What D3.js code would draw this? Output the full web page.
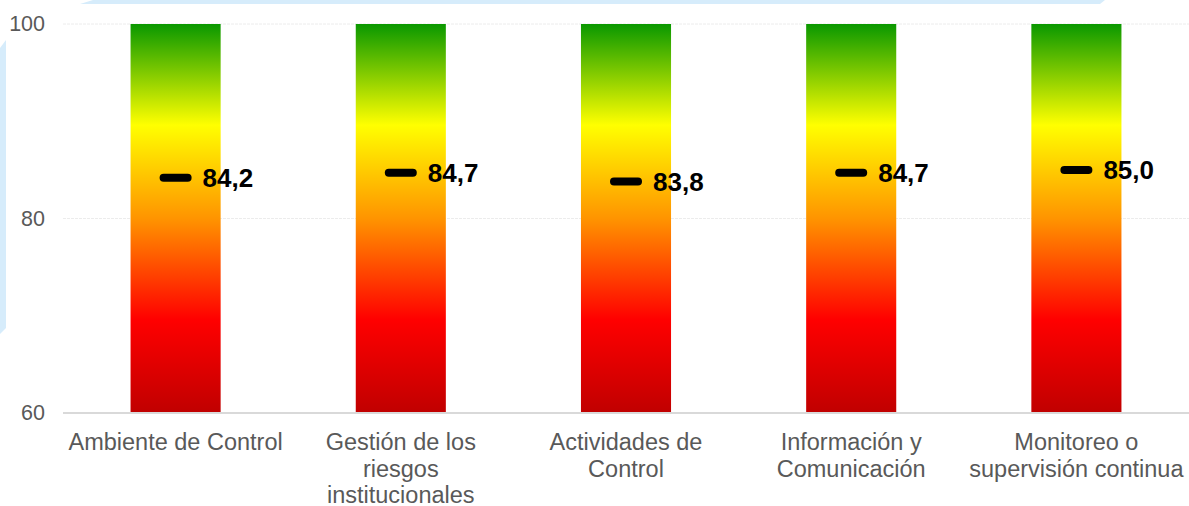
<!DOCTYPE html>
<html>
<head>
<meta charset="utf-8">
<script src="https://cdn.jsdelivr.net/npm/d3@7"></script>
<style>
  html, body { margin: 0; padding: 0; background: #ffffff; }
  svg { display: block; }
</style>
</head>
<body>
<svg id="chart" width="1189" height="506"></svg>
<script>
// Component names, each split into the lines shown under the axis
const categories = [
  "Ambiente de Control",
  "Gestión de los riesgos institucionales",
  "Actividades de Control",
  "Información y Comunicación",
  "Monitoreo o supervisión continua"
];
const categoryLines = [
  ["Ambiente de Control"],
  ["Gestión de los", "riesgos", "institucionales"],
  ["Actividades de", "Control"],
  ["Información y", "Comunicación"],
  ["Monitoreo o", "supervisión continua"]
];
const scores = [84.2, 84.7, 83.8, 84.7, 85.0];
const scaleMin = 60;
const scaleMax = 100;
const yTicks = [60, 80, 100];

const W = 1189, H = 506;
const margin = { left: 63, right: 0, top: 24, bottom: 93 };
const svg = d3.select("#chart");

// Light blue frame pieces behind the chart
svg.append("polygon")
  .attr("points", "80,4 93,0 1105,0 1100,4")
  .attr("fill", "#d6ecfb");
svg.append("polygon")
  .attr("points", "0,48 6,40 6,328 0,334")
  .attr("fill", "#d6ecfb");

const x = d3.scaleBand()
  .domain(categories)
  .range([margin.left, W - margin.right])
  .paddingInner(0.6)
  .paddingOuter(0.3);

const y = d3.scaleLinear()
  .domain([scaleMin, scaleMax])
  .range([H - margin.bottom, margin.top]);

// Vertical traffic-light gradient shared by every bar
const defs = svg.append("defs");
const grad = defs.append("linearGradient")
  .attr("id", "scoreGradient")
  .attr("gradientUnits", "userSpaceOnUse")
  .attr("x1", 0).attr("x2", 0)
  .attr("y1", y(scaleMin)).attr("y2", y(scaleMax));
[
  [0, "#c00000"],
  [0.24, "#ff0000"],
  [0.5, "#ff9400"],
  [0.74, "#ffff00"],
  [1, "#0a9800"]
].forEach(([o, c]) => grad.append("stop").attr("offset", o).attr("stop-color", c));

// Gridlines
svg.append("g")
  .selectAll("line")
  .data(yTicks.filter(t => t !== scaleMin))
  .join("line")
  .attr("x1", margin.left).attr("x2", W)
  .attr("y1", d => y(d)).attr("y2", d => y(d))
  .attr("stroke", "#ececec")
  .attr("stroke-width", 1)
  .attr("stroke-dasharray", "3,1");

// Bars spanning the full scale
svg.append("g")
  .selectAll("rect")
  .data(categories)
  .join("rect")
  .attr("x", d => x(d))
  .attr("width", x.bandwidth())
  .attr("y", y(scaleMax))
  .attr("height", y(scaleMin) - y(scaleMax))
  .attr("fill", "url(#scoreGradient)");

// Baseline
svg.append("line")
  .attr("x1", margin.left).attr("x2", W)
  .attr("y1", y(scaleMin)).attr("y2", y(scaleMin))
  .attr("stroke", "#d9d9d9")
  .attr("stroke-width", 2);

// Y axis labels
const yAxis = d3.axisLeft(y).tickValues(yTicks).tickSize(0).tickPadding(18);
const gy = svg.append("g")
  .attr("transform", `translate(${margin.left},0)`)
  .call(yAxis);
gy.select(".domain").remove();
gy.selectAll("text")
  .attr("font-family", "Liberation Sans, Arial, sans-serif")
  .attr("font-size", 21.5)
  .attr("fill", "#595959");

// Category labels
const labelG = svg.append("g");
categories.forEach((c, i) => {
  const t = labelG.append("text")
    .attr("x", x(c) + x.bandwidth() / 2)
    .attr("y", 450)
    .attr("text-anchor", "middle")
    .attr("font-family", "Liberation Sans, Arial, sans-serif")
    .attr("font-size", 23.5)
    .attr("fill", "#595959");
  categoryLines[i].forEach((line, j) => {
    t.append("tspan")
      .attr("x", x(c) + x.bandwidth() / 2)
      .attr("dy", j === 0 ? 0 : 26.5)
      .text(line);
  });
});

// Score markers and value labels
const fmt = v => d3.format(".1f")(v).replace(".", ",");
const marks = svg.append("g");
marks.selectAll("line")
  .data(scores)
  .join("line")
  .attr("x1", (d, i) => x(categories[i]) + x.bandwidth() / 2 - 12)
  .attr("x2", (d, i) => x(categories[i]) + x.bandwidth() / 2 + 12)
  .attr("y1", d => y(d)).attr("y2", d => y(d))
  .attr("stroke", "#000")
  .attr("stroke-width", 8)
  .attr("stroke-linecap", "round");
marks.selectAll("text")
  .data(scores)
  .join("text")
  .attr("x", (d, i) => x(categories[i]) + x.bandwidth() / 2 + 27)
  .attr("y", d => y(d) + 9.5)
  .attr("font-family", "Liberation Sans, Arial, sans-serif")
  .attr("font-weight", "bold")
  .attr("font-size", 26)
  .attr("fill", "#000")
  .text(d => fmt(d));
</script>
</body>
</html>
